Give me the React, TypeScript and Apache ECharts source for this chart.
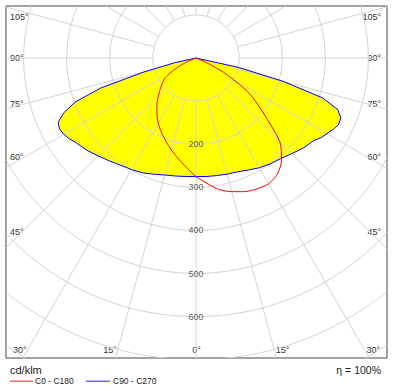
import React, { useEffect, useRef } from "react";
import * as echarts from "echarts";

// Photometric data (cd/klm) per gamma angle
const GAMMA = [0, 5, 10, 15, 20, 25, 30, 35, 40, 45, 50, 55, 57.5, 60, 62.5, 65, 67.5, 70, 72.5, 75, 77.5, 80, 85, 90];
const C0 = [275, 292, 310, 321, 330, 335, 337, 329, 309, 275, 210, 162, 135, 100, 72, 40, 15, 0, 0, 0, 0, 0, 0, 0];
const C180 = [275, 255, 237, 221, 205, 190, 175, 158, 141, 123, 107, 92, 84, 68, 52, 35, 18, 0, 0, 0, 0, 0, 0, 0];
const C90 = [275, 276, 277, 279, 281, 287, 294, 300, 305, 314, 325, 334, 344, 351, 359, 365, 364, 350, 308, 210, 100, 0, 0, 0];
const C270 = [275, 276, 278, 281, 287, 294, 299, 304, 312, 321, 332, 341, 349, 354, 357, 353, 332, 298, 232, 125, 50, 0, 0, 0];

const RINGS = [100, 200, 300, 400, 500, 600, 700, 800];
const SPOKES = [0, 15, 30, 45, 60, 75, 90, 105, 120, 135, 150, 165, 180, 195, 210, 225, 240, 255, 270, 285, 300, 315, 330, 345];
const VALUE_TICKS = [200, 300, 400, 500, 600];
const SIDE_ANGLE_TICKS = ["105°", "90°", "75°", "60°", "45°"];
const BOTTOM_ANGLE_TICKS = ["30°", "15°", "0°", "15°", "30°"];

const UNIT = "cd/klm";
const LEGEND_RED = "C0 - C180";
const LEGEND_BLUE = "C90 - C270";
const EFFICIENCY = "η = 100%";

// layout
const W = 393;
const H = 391;
const CX = 196;
const CY = 58;
const K = 0.431;
const GL = 6, GT = 6, GR = 387, GB = 358;
const SIDE_Y = [17, 58, 104, 157, 232];
const BOTTOM_X = [13, 110, 196.5, 282.5, 380];

const rad = (d: number) => (d * Math.PI) / 180;
function toXY(vals: number[], side: number): number[][] {
  return GAMMA.map((g, i) => [side * vals[i] * Math.sin(rad(g)), -vals[i] * Math.cos(rad(g))]);
}

const blueOutline = [...toXY(C270, -1).reverse(), ...toXY(C90, 1).slice(1)];
const redOutline = [...toXY(C180, -1).reverse(), ...toXY(C0, 1).slice(1)];

export default function App() {
  const ref = useRef<HTMLDivElement>(null);
  useEffect(() => {
    if (!ref.current) return;
    const chart = echarts.init(ref.current, undefined, { renderer: "svg" });
    const font = "Liberation Sans";
    const txt = "#333";
    const graphics: any[] = [];
    SIDE_ANGLE_TICKS.forEach((t, i) => {
      graphics.push({ type: "text", x: 10, y: SIDE_Y[i], style: { text: t, fill: txt, fontSize: 9, fontFamily: font, align: "left", verticalAlign: "middle" } });
      graphics.push({ type: "text", x: 381, y: SIDE_Y[i], style: { text: t, fill: txt, fontSize: 9, fontFamily: font, align: "right", verticalAlign: "middle" } });
    });
    BOTTOM_ANGLE_TICKS.forEach((t, i) => {
      const align = i === 0 ? "left" : i === 4 ? "right" : "center";
      graphics.push({ type: "text", x: BOTTOM_X[i], y: 350, style: { text: t, fill: txt, fontSize: 9, fontFamily: font, align, verticalAlign: "middle" } });
    });
    graphics.push({ type: "text", x: 10, y: 370, style: { text: UNIT, fill: "#222", fontSize: 11, fontFamily: font, align: "left", verticalAlign: "middle" } });
    graphics.push({ type: "rect", shape: { x: 10, y: 380.5, width: 23, height: 1.5 }, style: { fill: "#ff6a6a", stroke: "none" } });
    graphics.push({ type: "text", x: 35, y: 381, style: { text: LEGEND_RED, fill: "#222", fontSize: 8.5, fontFamily: font, align: "left", verticalAlign: "middle" } });
    graphics.push({ type: "rect", shape: { x: 86, y: 380.5, width: 24, height: 1.5 }, style: { fill: "#6a6aff", stroke: "none" } });
    graphics.push({ type: "text", x: 113, y: 381, style: { text: LEGEND_BLUE, fill: "#222", fontSize: 8.5, fontFamily: font, align: "left", verticalAlign: "middle" } });
    graphics.push({ type: "text", x: 381, y: 370, style: { text: EFFICIENCY, fill: "#222", fontSize: 10.5, fontFamily: font, align: "right", verticalAlign: "middle" } });

    const gridColor = "#d4d4d4";
    chart.setOption({
      animation: false,
      backgroundColor: "#ffffff",
      grid: {
        left: GL,
        top: GT,
        width: GR - GL,
        height: GB - GT,
        show: true,
        borderColor: "#444",
        borderWidth: 1,
        backgroundColor: "#ffffff",
      },
      xAxis: { type: "value", min: (GL - CX) / K, max: (GR - CX) / K, show: false },
      yAxis: { type: "value", min: -(GB - CY) / K, max: (CY - GT) / K, show: false },
      graphic: graphics,
      series: [
        {
          type: "custom",
          coordinateSystem: "cartesian2d",
          data: [[0, 0]],
          clip: true,
          silent: true,
          z: 1,
          renderItem: (_p: any, api: any) => ({
            type: "polygon",
            shape: { points: blueOutline.map((p) => api.coord(p)) },
            style: { fill: "#ffff00", stroke: "none" },
          }),
        },
        {
          type: "custom",
          coordinateSystem: "cartesian2d",
          data: RINGS.map((r) => [r, 0]),
          clip: true,
          silent: true,
          z: 2,
          renderItem: (_p: any, api: any) => {
            const c = api.coord([0, 0]);
            const r = api.size([api.value(0), 0])[0];
            return { type: "circle", shape: { cx: c[0], cy: c[1], r }, style: { fill: "none", stroke: gridColor, lineWidth: 1 } };
          },
        },
        {
          type: "custom",
          coordinateSystem: "cartesian2d",
          data: SPOKES.map((a) => [a, 0]),
          clip: true,
          silent: true,
          z: 2,
          renderItem: (_p: any, api: any) => {
            const a = rad(api.value(0));
            const p1 = api.coord([100 * Math.sin(a), -100 * Math.cos(a)]);
            const p2 = api.coord([1400 * Math.sin(a), -1400 * Math.cos(a)]);
            return { type: "line", shape: { x1: p1[0], y1: p1[1], x2: p2[0], y2: p2[1] }, style: { stroke: gridColor, lineWidth: 1 } };
          },
        },
        {
          type: "line",
          name: LEGEND_BLUE,
          data: blueOutline,
          symbol: "none",
          clip: true,
          silent: true,
          z: 3,
          lineStyle: { color: "#0000ff", width: 1 },
        },
        {
          type: "line",
          name: LEGEND_RED,
          data: redOutline,
          symbol: "none",
          smooth: 0.25,
          clip: true,
          silent: true,
          z: 4,
          lineStyle: { color: "#ff0000", width: 1 },
        },
        {
          type: "scatter",
          data: VALUE_TICKS.map((v) => [0, -v]),
          symbolSize: 0,
          silent: true,
          z: 5,
          label: {
            show: true,
            position: "inside",
            formatter: (p: any) => String(-p.value[1]),
            color: txt,
            fontSize: 9,
            fontFamily: font,
          },
        },
      ],
    });
    return () => chart.dispose();
  }, []);
  return <div ref={ref} style={{ position: "absolute", left: 0, top: 0, width: W, height: H }} />;
}
